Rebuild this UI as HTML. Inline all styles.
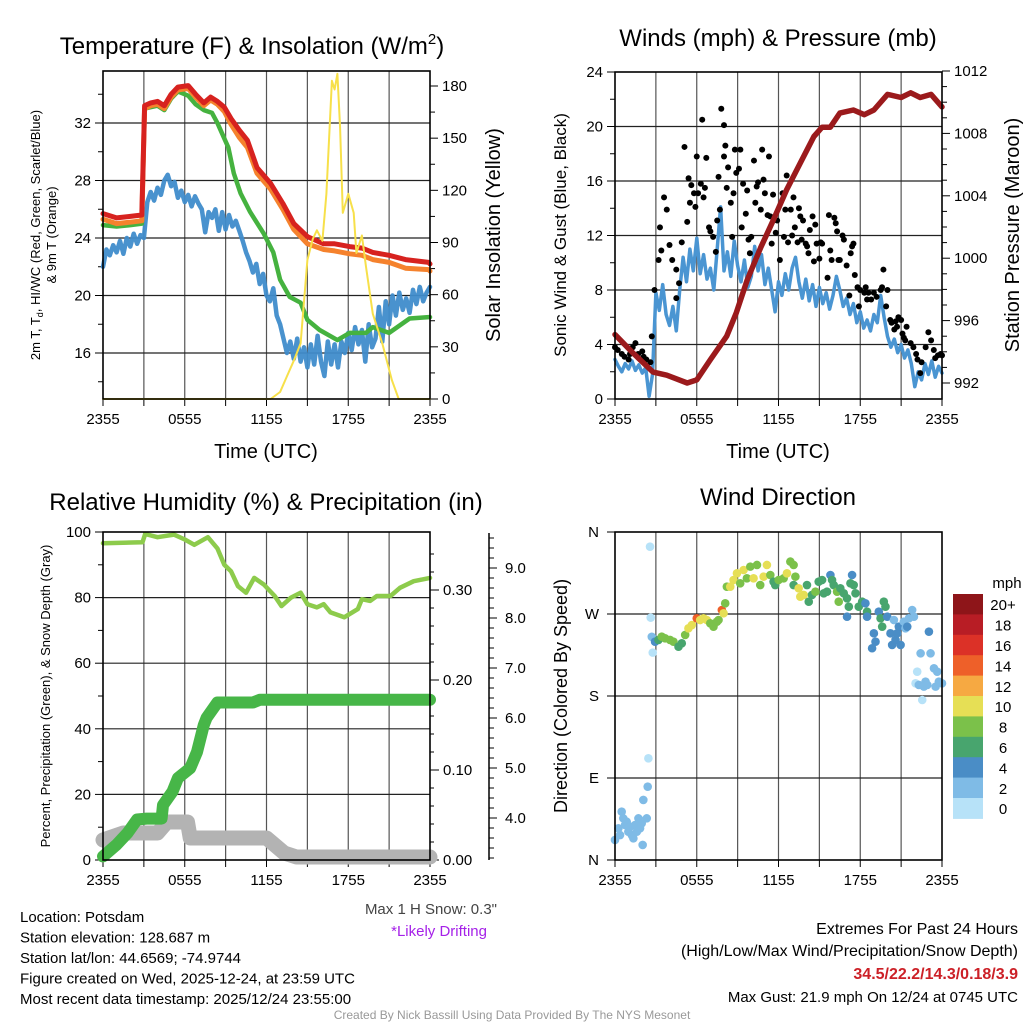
<!DOCTYPE html>
<html><head><meta charset="utf-8"><style>
body{margin:0;background:#fff}
svg{display:block;font-family:"Liberation Sans",sans-serif}
</style></head><body>
<svg id="c" width="1024" height="1024" viewBox="0 0 1024 1024" xmlns="http://www.w3.org/2000/svg"></svg>
<script>
// ---------- data ----------
const timeTicks = [0, 6, 12, 18, 24];
const timeTickLabels = ["2355", "0555", "1155", "1755", "2355"];
// Temperature panel
const tempTimes = [0,1,2,2.85,3.05,3.5,4.0,4.5,5.0,5.5,6.25,6.8,7.4,7.9,8.4,8.9,9.4,10.0,10.6,11.3,12.3,13.2,14.0,15.0,16.2,17.0,18.1,19.0,19.8,21.0,22.2,23.9,24];
const temp2m = [25.7,25.4,25.5,25.6,33.2,33.4,33.5,33.2,34.0,34.5,34.6,34.0,33.4,33.8,33.5,33.1,32.3,31.5,30.8,28.9,27.8,26.4,25.0,24.1,23.6,23.6,23.4,23.3,23.0,22.8,22.5,22.3,22.2];
const temp9m = [25.3,25.0,25.1,25.2,33.0,33.2,33.3,33.0,33.8,34.3,34.4,33.8,33.2,33.6,33.3,32.8,31.9,31.0,30.3,28.5,27.4,26.0,24.6,23.6,23.2,23.1,22.9,22.8,22.5,22.3,21.9,21.8,21.7];
const greenTimes = [0,1,2,2.85,3.05,3.5,4.0,4.5,5.0,5.5,6.25,6.8,7.4,8.0,8.4,9.2,9.6,10.1,10.8,11.8,12.5,13.0,13.7,14.5,15.0,15.9,17.2,18.1,19.3,19.8,21.0,22.5,23.9,24];
const greenTemp = [24.9,24.8,24.9,25.0,33.0,33.1,33.2,32.9,33.7,34.2,33.9,33.3,32.9,32.7,32.0,30.3,28.5,27.1,25.8,24.3,23.0,21.1,19.9,19.5,18.3,17.6,16.9,17.4,17.4,17.8,17.4,18.4,18.5,18.5];
const blueStep = 0.25;
const blueTemp = [22.0,23.2,22.8,23.5,23.0,23.8,22.9,24.0,23.4,24.3,23.6,24.2,
24.0,26.5,27.2,26.6,27.5,27.0,28.0,28.4,27.6,27.9,26.8,27.3,26.5,27.0,26.2,26.9,26.4,26.0,24.4,25.8,25.4,26.0,24.5,25.8,24.6,25.6,24.8,25.2,
24.5,23.8,23.0,22.4,21.6,22.2,20.8,21.5,20.0,19.6,20.5,18.6,18.0,17.0,16.0,16.8,15.6,17.0,15.4,16.4,15.0,16.6,15.2,17.2,15.4,14.4,16.8,15.2,
16.6,15.0,16.8,16.0,17.4,16.2,17.8,16.6,17.6,15.4,18.0,16.4,17.0,19.2,16.8,19.6,18.0,20.0,18.6,20.2,19.0,19.8,18.8,20.4,19.4,20.6,19.6,20.2,20.6];
const solarTimes = [0,12.3,13.0,13.5,14.0,14.5,15.0,15.4,15.7,16.1,16.4,16.8,17.0,17.2,17.4,17.6,18.0,18.4,18.6,19.0,19.3,19.8,20.5,21.2,21.7,24];
const solar = [0,0,4,13,22,32,80,92,97,91,118,183,178,187,156,107,118,107,84,94,76,49,32,11,0,0];
const tempTicks = [16,20,24,28,32];
const solarTicks = [0,30,60,90,120,150,180];
// Wind panel
const windSpeed = [2.9,2.4,2.0,2.6,2.2,2.8,2.1,2.5,1.9,2.3,0.2,1.8,
7.8,6.5,8.4,6.2,5.4,6.8,5.0,8.0,10.4,8.6,11.0,9.4,11.8,9.2,10.6,8.8,9.6,8.0,11.0,14.1,9.4,10.8,9.0,11.6,9.8,8.6,10.2,8.2,
9.0,11.2,9.4,10.6,8.4,9.6,8.0,6.4,8.6,7.6,9.2,8.0,9.6,10.4,8.6,7.4,8.8,7.2,8.4,6.8,8.2,7.0,7.8,6.6,7.6,9.0,8.0,6.8,
7.4,6.2,7.0,5.6,6.4,5.2,5.8,5.0,6.2,5.6,7.6,6.0,4.6,3.8,4.4,3.4,4.0,3.0,3.6,2.6,0.9,2.0,1.4,2.6,1.8,2.8,1.6,2.4,1.9];
const gustTimes = [0,0.2,0.5,0.7,1.0,1.1,1.3,1.5,1.7,2.0,2.1,2.3,2.6,2.7,2.9,3.2,3.3,3.4,3.6,3.8,4.0,4.2,4.5,4.7,4.5,4.9,5.1,5.3,5.4,5.5,5.6,5.8,5.9,6.0,6.1,6.3,6.4,6.5,6.6,6.7,6.9,7.0,7.2,7.4,7.5,7.6,7.7,7.8,8.0,8.0,8.1,8.2,8.3,8.5,8.6,8.7,8.8,8.9,9.1,9.2,9.3,9.4,9.6,9.7,9.8,9.9,10.0,10.2,10.3,10.4,10.5,10.7,10.8,10.9,11.0,11.2,11.3,11.4,11.5,11.6,11.8,11.9,12.1,12.3,12.4,12.5,12.6,12.7,12.9,13.0,13.1,13.2,13.4,13.5,13.6,13.7,13.8,14.0,14.1,14.2,14.3,14.5,14.6,14.7,14.8,15.0,15.1,15.2,15.6,15.7,15.8,15.9,16.1,16.2,16.3,16.4,16.5,16.7,16.8,17.0,17.2,17.3,17.4,17.5,17.6,17.8,17.9,18.0,18.3,18.4,18.5,18.6,18.8,19.0,19.2,19.5,19.6,19.7,19.9,20.0,20.2,20.3,20.5,20.6,20.7,20.8,21.0,21.1,21.2,21.3,21.4,21.7,21.9,22.1,22.2,22.4,22.5,22.8,23.0,23.2,23.4,23.5,23.7,23.9,24.0];
const gustSpeeds = [3.8,3.6,3.3,3.1,2.9,3.3,3.8,4.1,3.3,3.5,3.1,2.9,2.7,4.6,8.0,10.2,12.6,10.9,14.8,13.9,11.3,10.2,9.5,8.5,7.4,11.5,18.5,13.0,16.2,14.4,15.7,15.1,14.1,17.8,15.1,15.8,20.5,14.8,15.5,17.7,12.6,12.3,11.9,10.8,13.1,16.3,13.9,21.3,20.1,17.8,18.6,15.5,17.0,14.4,11.9,15.1,18.3,16.6,16.9,18.3,12.6,15.8,13.6,15.3,11.7,10.7,11.9,17.5,14.4,15.6,15.9,13.9,18.3,16.1,15.1,13.5,17.8,13.4,11.4,15.0,12.2,13.1,10.2,15.1,11.9,13.9,16.4,11.5,13.9,12.0,14.8,12.6,11.5,14.0,13.4,11.7,13.1,11.4,11.2,10.7,12.4,13.4,10.1,12.8,11.4,10.3,11.5,11.4,8.9,13.5,10.9,10.2,13.3,12.9,12.3,10.2,10.2,12.0,11.7,9.8,7.6,10.7,11.2,11.4,9.1,8.2,6.8,8.0,7.8,8.2,7.3,7.8,7.3,7.8,7.5,8.0,8.2,9.5,6.8,8.0,5.8,5.6,5.1,5.7,5.3,6.0,5.8,4.8,4.5,4.3,5.3,4.1,3.8,3.3,2.9,1.9,2.7,3.8,4.9,4.3,3.6,3.0,3.2,3.3,3.2];
const presTimes = [0,1.35,2.8,3.8,5.3,6.0,7.0,8.2,8.9,9.7,10.7,11.6,12.6,13.6,14.6,15.2,15.8,16.5,17.5,18.3,19.0,20.0,21.0,21.7,22.4,23.2,24];
const pressure = [995.1,993.9,992.7,992.5,992.0,992.2,993.5,995.0,996.5,998.6,1000.7,1002.4,1004.4,1006.1,1007.8,1008.4,1008.4,1009.3,1009.5,1009.2,1009.5,1010.5,1010.3,1010.6,1010.3,1010.5,1009.7];
const windTicks = [0,4,8,12,16,20,24];
const presTicks = [992,996,1000,1004,1008,1012];
// Humidity panel
const rhTimes = [0,2.9,3.1,4,5.2,6,6.7,7.7,8.4,8.9,9.4,9.9,10.5,11.1,11.8,12.6,13.1,13.8,14.5,15,15.7,16.2,16.7,17.7,18.7,19,19.6,20.1,21.1,21.8,22.8,24];
const rh = [96.6,96.9,99.4,98.4,99.2,97.7,96.1,98.4,95,90,88,83.5,81.5,86,84,80.5,77.4,80,81.5,78,77,78,75.5,74,76.5,79.5,79,80.5,80.5,83,85,86];
const precipTimes = [0,1,1.8,2.5,3.2,4.3,4.4,5.1,5.5,6.4,6.9,7.4,7.6,8.4,11,11.5,24];
const precip = [0.004,0.017,0.030,0.045,0.046,0.046,0.061,0.076,0.091,0.102,0.12,0.15,0.158,0.175,0.175,0.178,0.178];
const snowTimes = [0,1.5,4,4.7,6.2,6.4,12,13.3,14.2,24];
const snowDepth = [3.56,3.7,3.7,3.92,3.92,3.6,3.6,3.3,3.22,3.22];
const rhTicks = [0,20,40,60,80,100];
const precipTicks = [0,0.1,0.2,0.3];
const precipTickLabels = ["0.00","0.10","0.20","0.30"];
const snowTicks = [4,5,6,7,8,9];
const snowTickLabels = ["4.0","5.0","6.0","7.0","8.0","9.0"];
// Direction panel
const dirTimes = [0,0.25,0.37,0.49,0.61,0.74,0.86,0.98,1.1,1.23,1.35,1.47,1.6,1.72,1.84,1.96,2.08,2.03,2.33,2.4,2.45,2.57,2.62,2.7,2.77,
2.94,3.19,3.43,3.68,4.04,4.29,4.66,4.9,5.15,5.39,5.64,6.0,6.25,6.5,6.74,6.99,7.23,7.48,7.6,7.84,7.97,8.09,8.21,8.46,8.7,8.95,9.19,9.44,9.68,9.93,10.17,10.42,10.66,10.91,11.15,11.4,11.64,11.76,12.01,12.38,12.62,12.87,13.11,13.24,13.11,13.48,13.6,13.85,14.09,14.22,14.46,14.71,14.95,15.2,15.32,15.56,15.81,15.93,16.05,16.3,16.42,16.54,16.79,17.03,17.16,17.03,17.28,17.4,17.52,17.65,17.89,18.14,18.38,18.5,18.5,19.0,19.12,18.87,19.36,19.49,19.73,19.85,19.61,19.98,20.22,20.47,20.34,20.59,20.71,20.83,20.96,21.2,21.32,21.45,21.57,21.81,21.94,23.04,23.16,22.43,22.18,22.06,22.3,22.55,22.67,22.79,22.92,23.41,23.65,23.53,23.77,24.0];
const dirDeg = [22,34.8,27.4,53,45.7,38.4,42,31.1,36.6,27.4,23.8,38.4,31.1,45.7,34.8,40.2,65.9,16.5,45.7,80.5,111.6,343.9,266,245,227.6,
239.6,241.5,245.1,243.3,241.5,239.6,234.1,237.8,247,254.3,257.9,265.3,263.4,265.3,263.4,259.8,256.1,261.6,263.4,274.4,270.8,281.7,300,300,307.3,314.7,303.7,318.3,309.2,322,309.2,323.8,301.8,311,323.8,312.8,305.5,301.8,307.3,309.2,314.7,327.5,323.8,311,301.8,298.2,289,290.9,301.8,283.5,290.9,294.5,305.5,307.3,292.7,294.5,312.8,307.3,301.8,294.5,283.5,298.2,292.7,287.2,278,267,303.7,312.8,301.8,292.7,278,283.5,281.7,272.5,267,248.8,239.6,232.4,272.5,265.3,283.5,278,256.1,267,248.8,263.4,236,241.5,248.8,256.1,236,261.6,254.3,256.1,265.3,274.4,267,250.6,226.8,226.8,206.7,193.9,192.1,175.6,190.3,195.7,192.1,210.4,206.7,190.3,195.7,193.9];
const dirSpeed = [3,3,3,3,3,3,3,3,3,3,3,3,3,3,3,3,3,3,3,3,1,1,1,3,1,
5,7,9,9,9,9,7,7,9,11,11,15,11,11,11,9,9,9,9,15,11,9,9,11,11,11,9,11,9,9,11,9,9,11,11,9,7,7,9,9,11,9,9,9,7,11,11,11,7,7,7,9,7,7,7,7,5,7,7,9,9,7,7,7,7,5,7,5,7,7,7,7,5,7,5,5,5,5,5,7,7,7,7,5,5,3,5,5,5,5,5,3,3,5,3,3,3,5,3,3,1,1,3,1,3,3,3,3,3,3,3,3];
const speedBins = ["0","2","4","6","8","10","12","14","16","18","20+"];
const speedColors = ["#b7e2f8","#7fbbe6","#4a8dc6","#48a56e","#7bc14a","#e6df55","#f6a942","#ee6029","#dc3127","#b81d25","#8e1519"];
const dirTicks = [0,90,180,270,360];
const dirTickLabels = ["N","E","S","W","N"];

// ---------- helpers ----------
const NS = "http://www.w3.org/2000/svg";
const svg = document.getElementById("c");
function el(tag, attrs, parent){
  const e = document.createElementNS(NS, tag);
  for (const k in attrs) e.setAttribute(k, attrs[k]);
  (parent || svg).appendChild(e);
  return e;
}
function txt(s, x, y, size, anchor, name, extra){
  const t = el("text", Object.assign({x:x, y:y, "font-size":size, "text-anchor":anchor||"middle", fill:"#000"}, extra||{}));
  t.textContent = s;
  
  
  return t;
}
function ln(x1,y1,x2,y2,stroke,w,name){
  const l = el("line",{x1:x1,y1:y1,x2:x2,y2:y2,stroke:stroke,"stroke-width":w});
  
  
  return l;
}
function path(xs, ys, sx, sy, color, w, name, opacity){
  let d = "";
  for (let i=0;i<xs.length;i++) d += (i?"L":"M") + sx(xs[i]).toFixed(1) + "," + sy(ys[i]).toFixed(1);
  const p = el("path",{d:d, fill:"none", stroke:color, "stroke-width":w, "stroke-linejoin":"round", "stroke-linecap":"round", opacity: opacity||1});
  
  
  return p;
}
function stepTimes(n){ const a=[]; for(let i=0;i<n;i++) a.push(i*blueStep); return a; }

function frame(x0,x1,y0,y1,prefix){
  const sx = t => x0 + t*(x1-x0)/24;
  // vertical grid every 3 h
  for (let h=3; h<24; h+=3) ln(sx(h), y0, sx(h), y1, "#555", 1.2, prefix+"-vgrid");
  for (let h=0; h<=24; h+=3) ln(sx(h), y1, sx(h), y1+7, "#000", 1, prefix+"-xtick");
  timeTicks.forEach((t,i)=> txt(timeTickLabels[i], sx(t), y1+25, 15, "middle", prefix+"-xtick-label"));
  return sx;
}
function box(x0,x1,y0,y1,prefix){
  const r = el("rect",{x:x0,y:y0,width:x1-x0,height:y1-y0,fill:"none",stroke:"#000","stroke-width":1.6});
  
  
}

// ---------- Panel 1: temperature ----------
(function(){
  const x0=103,x1=430,y0=71,y1=399;
  const sx = frame(x0,x1,y0,y1,"temp");
  const syT = v => 353 - (v-16)*14.375;
  const syS = s => y1 - s*(y1-86)/180;
  tempTicks.forEach(v=>{ ln(x0,syT(v),x1,syT(v),"#222",1.2,"temp-hgrid"); ln(x0-8,syT(v),x0,syT(v),"#000",1,"temp-ytick"); txt(String(v), x0-12, syT(v)+5, 15, "end", "temp-ytick-label"); });
  for (let v=14; v<=34; v+=2) if (v%4) ln(x0-5,syT(v),x0,syT(v),"#000",1,"temp-ytick-minor");
  solarTicks.forEach(v=>{ ln(x1,syS(v),x1+8,syS(v),"#000",1,"solar-ytick"); txt(String(v), x1+12, syS(v)+5, 15, "start", "solar-ytick-label"); });
  for (let v=15; v<=180; v+=30) ln(x1,syS(v),x1+5,syS(v),"#000",1,"solar-ytick-minor");
  path(stepTimes(blueTemp.length), blueTemp, sx, syT, "#3f8ccb", 4.5, "dewpoint-line-blue", 0.95);
  path(greenTimes, greenTemp, sx, syT, "#45b23f", 4.5, "heat-index-line-green");
  path(tempTimes, temp9m, sx, syT, "#f5822d", 5, "temp-9m-line-orange");
  path(tempTimes, temp2m, sx, syT, "#d7221f", 5, "temp-2m-line-red");
  path(solarTimes, solar, sx, syS, "#f7e04a", 2, "solar-insolation-line-yellow");
  box(x0,x1,y0,y1,"temp");
  const title = txt("Temperature (F) & Insolation (W/m", 252, 54, 24, "middle", "temp-panel-title");
  const sup = el("tspan",{dy:-10,"font-size":15}, title); sup.textContent="2";
  const cl = el("tspan",{dy:10}, title); cl.textContent=")";
  txt("Time (UTC)", 266, 458, 20, "middle", "temp-x-axis-title");
  const yl = txt("2m T, T", 0, 0, 13, "middle", "temp-y-axis-title", {transform:"translate(40,235) rotate(-90)"});
  const sub = el("tspan",{dy:3,"font-size":9}, yl); sub.textContent="d";
  const rest = el("tspan",{dy:-3}, yl); rest.textContent=", HI/WC (Red, Green, Scarlet/Blue)";
  txt("& 9m T (Orange)", 0, 0, 13, "middle", "temp-y-axis-title-line2", {transform:"translate(56,235) rotate(-90)"});
  txt("Solar Insolation (Yellow)", 0, 0, 20, "middle", "solar-y-axis-title", {transform:"translate(500,235) rotate(-90)"});
})();

// ---------- Panel 2: wind ----------
(function(){
  const x0=615,x1=942,y0=72,y1=399;
  const sx = frame(x0,x1,y0,y1,"wind");
  const syW = v => y1 - v*(y1-y0)/24;
  const syP = p => 383 - (p-992)*15.6;
  windTicks.forEach(v=>{ if(v>0&&v<24) ln(x0,syW(v),x1,syW(v),"#222",1.2,"wind-hgrid"); ln(x0-8,syW(v),x0,syW(v),"#000",1,"wind-ytick"); txt(String(v), x0-12, syW(v)+5, 15, "end", "wind-ytick-label"); });
  for (let v=2; v<24; v+=4) ln(x0-5,syW(v),x0,syW(v),"#000",1,"wind-ytick-minor");
  presTicks.forEach(v=>{ ln(x1,syP(v),x1+8,syP(v),"#000",1,"pressure-ytick"); txt(String(v), x1+12, syP(v)+5, 15, "start", "pressure-ytick-label"); });
  for (let v=993; v<1012; v++) if ((v-992)%4) ln(x1,syP(v),x1+5,syP(v),"#000",1,"pressure-ytick-minor");
  path(stepTimes(windSpeed.length), windSpeed, sx, syW, "#4a95d2", 3.5, "sonic-wind-line-blue");
  for (let i=0;i<gustTimes.length;i++){
    const c = el("circle",{cx:sx(gustTimes[i]), cy:syW(gustSpeeds[i]), r:3, fill:"#000"});
    
    
  }
  path(presTimes, pressure, sx, syP, "#9b1a1c", 5.5, "pressure-line-maroon");
  box(x0,x1,y0,y1,"wind");
  txt("Winds (mph) & Pressure (mb)", 778, 46, 24, "middle", "wind-panel-title");
  txt("Time (UTC)", 778, 458, 20, "middle", "wind-x-axis-title");
  txt("Sonic Wind & Gust (Blue, Black)", 0, 0, 17, "middle", "wind-y-axis-title", {transform:"translate(566,235) rotate(-90)"});
  txt("Station Pressure (Maroon)", 0, 0, 20, "middle", "pressure-y-axis-title", {transform:"translate(1019,235) rotate(-90)"});
})();

// ---------- Panel 3: humidity ----------
(function(){
  const x0=103,x1=430,y0=532,y1=860;
  const sx = frame(x0,x1,y0,y1,"rh");
  const syR = v => y1 - v*3.28;
  const syPr = r => y1 - r*900;
  const sySn = s => y1 - (s-3.16)*50;
  rhTicks.forEach(v=>{ if(v>0&&v<100) ln(x0,syR(v),x1,syR(v),"#222",1.2,"rh-hgrid"); ln(x0-8,syR(v),x0,syR(v),"#000",1,"rh-ytick"); txt(String(v), x0-12, syR(v)+5, 15, "end", "rh-ytick-label"); });
  for (let v=10; v<100; v+=20) ln(x0-5,syR(v),x0,syR(v),"#000",1,"rh-ytick-minor");
  precipTicks.forEach((v,i)=>{ ln(x1,syPr(v),x1+9,syPr(v),"#000",1,"precip-ytick"); txt(precipTickLabels[i], x1+13, syPr(v)+5, 15, "start", "precip-ytick-label"); });
  for (let v=0.02; v<0.36; v+=0.02) ln(x1,syPr(v),x1+4,syPr(v),"#000",1,"precip-ytick-minor");
  ln(489, 533, 489, 860, "#000", 1.5, "snow-axis-line");
  snowTicks.forEach((v,i)=>{ ln(489,sySn(v),497,sySn(v),"#000",1,"snow-ytick"); txt(snowTickLabels[i], 505, sySn(v)+5, 15, "start", "snow-ytick-label"); });
  for (let v=3.2; v<9.6; v+=0.2) ln(489,sySn(v),494,sySn(v),"#000",1,"snow-ytick-minor");
  path(snowTimes, snowDepth, sx, sySn, "#b3b3b3", 15, "snow-depth-line-gray");
  path(precipTimes, precip, sx, syPr, "#47b648", 12, "precip-line-green");
  path(rhTimes, rh, sx, syR, "#8dcb4c", 4.5, "rh-line-lightgreen");
  box(x0,x1,y0,y1,"rh");
  txt("Relative Humidity (%) & Precipitation (in)", 266, 510, 24, "middle", "rh-panel-title");
  txt("Percent, Precipitation (Green), & Snow Depth (Gray)", 0, 0, 13, "middle", "rh-y-axis-title", {transform:"translate(50,696) rotate(-90)"});
})();

// ---------- Panel 4: direction ----------
(function(){
  const x0=615,x1=942,y0=532,y1=860;
  const sx = frame(x0,x1,y0,y1,"dir");
  const syD = d => y1 - d*(y1-y0)/360;
  dirTicks.forEach((v,i)=>{ if(v>0&&v<360) ln(x0,syD(v),x1,syD(v),"#222",1.2,"dir-hgrid"); ln(x0-8,syD(v),x0,syD(v),"#000",1,"dir-ytick"); txt(dirTickLabels[i], x0-16, syD(v)+5, 15, "end", "dir-ytick-label"); });
  for (let i=0;i<dirTimes.length;i++){
    const bin = Math.min(10, Math.floor(dirSpeed[i]/2));
    const c = el("circle",{cx:sx(dirTimes[i]), cy:syD(dirDeg[i]), r:4.3, fill:speedColors[bin]});
    
    
  }
  box(x0,x1,y0,y1,"dir");
  txt("Wind Direction", 778, 505, 24, "middle", "dir-panel-title");
  txt("Direction (Colored By Speed)", 0, 0, 18, "middle", "dir-y-axis-title", {transform:"translate(567,696) rotate(-90)"});
  // colorbar
  const cbTop=594, segH=20.4;
  for (let i=0;i<speedBins.length;i++){
    const idx = speedBins.length-1-i;
    const r = el("rect",{x:953, y:cbTop+i*segH, width:30, height:segH+0.5, fill:speedColors[idx]});
    
    
    txt(speedBins[idx], 1003, cbTop+i*segH+segH/2+6, 15, "middle", "colorbar-label");
  }
  txt("mph", 1007, 588, 15, "middle", "colorbar-title");
})();

// ---------- footer text ----------
const leftInfo = ["Location: Potsdam","Station elevation: 128.687 m","Station lat/lon: 44.6569; -74.9744","Figure created on Wed, 2025-12-24, at 23:59 UTC","Most recent data timestamp: 2025/12/24 23:55:00"];
leftInfo.forEach((s,i)=> txt(s, 20, 922+i*20.5, 15, "start", "station-info-line"));
txt("Max 1 H Snow: 0.3\"", 497, 914, 15, "end", "max-snow-note", {fill:"#444"});
txt("*Likely Drifting", 487, 936, 15, "end", "drifting-note", {fill:"#a521e8"});
txt("Extremes For Past 24 Hours", 1018, 934, 16, "end", "extremes-title");
txt("(High/Low/Max Wind/Precipitation/Snow Depth)", 1018, 956, 16, "end", "extremes-legend");
txt("34.5/22.2/14.3/0.18/3.9", 1018, 979, 16, "end", "extremes-values", {fill:"#cc2027","font-weight":"bold"});
txt("Max Gust: 21.9 mph On 12/24 at 0745 UTC", 1018, 1002, 15, "end", "max-gust-note");
txt("Created By Nick Bassill Using Data Provided By The NYS Mesonet", 512, 1019, 12, "middle", "credit-line", {fill:"#999"});
</script>
</body></html>
